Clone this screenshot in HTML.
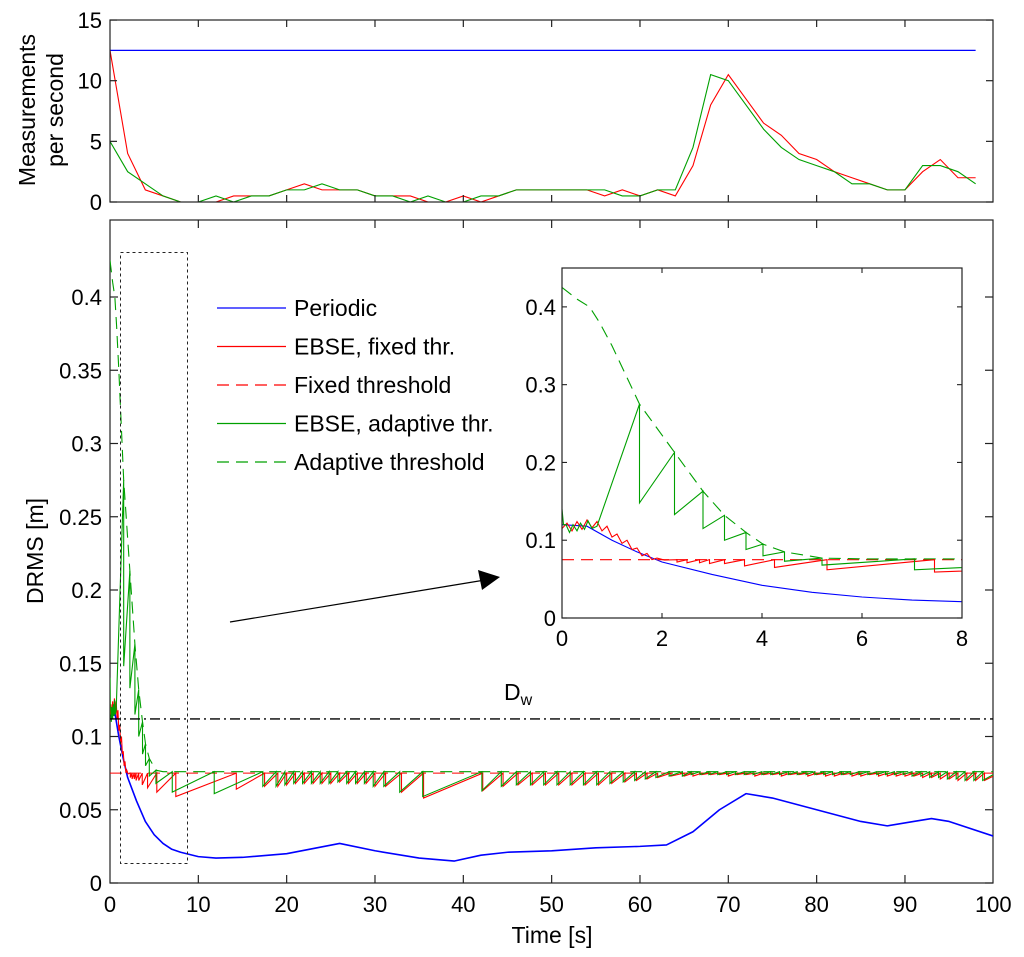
<!DOCTYPE html>
<html><head><meta charset="utf-8"><style>
html,body{margin:0;padding:0;background:#fff;}
svg{display:block;font-family:"Liberation Sans",Arial,sans-serif;}
</style></head><body>
<svg id="chart" width="1024" height="957" xmlns="http://www.w3.org/2000/svg"></svg>
<script>
// ---------- data ----------
const topTimes = [0,2,4,6,8,10,12,14,16,18,20,22,24,26,28,30,32,34,36,38,40,42,44,46,48,50,52,54,56,58,60,62,64,66,68,70,72,74,76,78,80,82,84,86,88,90,92,94,96,98];
const topPeriodic = [12.5,12.5];
const topPeriodicT = [0,98];
const topRed = [12.5,4,1,0.5,0,0,0,0.5,0.5,0.5,1,1.5,1,1,1,0.5,0.5,0.5,0,0,0.5,0,0.5,1,1,1,1,1,0.5,1,0.5,1,0.5,3,8,10.5,8.5,6.5,5.5,4,3.5,2.5,2,1.5,1,1,2.5,3.5,2,2];
const topGreen = [5,2.5,1.5,0.5,0,0,0.5,0,0.5,0.5,1,1,1.5,1,1,0.5,0.5,0,0.5,0,0,0.5,0.5,1,1,1,1,1,1,0.5,0.5,1,1,4.5,10.5,10,8,6,4.5,3.5,3,2.5,1.5,1.5,1,1,3,3,2.5,1.5];

const blueT = [0,0.5,1,1.5,2,3,4,5,6,7,8,10,12,15,20,26,30,35,39,42,45,50,55,60,63,66,69,72,75,80,85,88,91,93,95,100];
const blueV = [0.12,0.118,0.1,0.085,0.072,0.056,0.042,0.033,0.027,0.023,0.021,0.018,0.017,0.0175,0.02,0.027,0.022,0.017,0.015,0.019,0.021,0.022,0.024,0.025,0.026,0.035,0.05,0.061,0.058,0.05,0.042,0.039,0.042,0.044,0.042,0.032];

const fixedThr = 0.075;
const dwLevel = 0.112;

const thrT = [0,0.3,0.55,0.75,1.0,1.55,2.25,2.82,3.25,3.68,4.02,4.45,5.2,6,8,100];
const thrV = [0.425,0.41,0.4,0.38,0.35,0.275,0.213,0.163,0.132,0.11,0.095,0.085,0.077,0.076,0.076,0.076];

const redEarlyT = [0,0.1,0.2,0.3,0.4,0.5,0.6,0.7,0.8,0.9,1.0,1.1,1.2,1.3,1.4,1.5,1.6,1.7,1.8,1.9,2.05];
const redEarlyV = [0.115,0.122,0.112,0.124,0.114,0.126,0.116,0.124,0.112,0.118,0.104,0.108,0.096,0.1,0.088,0.09,0.08,0.083,0.075,0.077,0.0745];
const redResetT = [2.3,2.5,2.75,2.95,3.25,3.65,4.25,5.3,7.45,14.3,17.5,19,20,21,22,23,24,25,26,27,28,29,30,31.2,33,35.5,42.2,44.5,46.2,47.8,49.3,50.8,52.3,53.8,55.3,56.8,58.3,59.6,60.8,62,63.5,65,66,67,68,69,70,71,72,73,74,75,76,77,78,79,80,81,82,83,84,85,86,87,88,89,90,91,92,93,94,95,96,97,98,99];
const redResetV = [0.072,0.071,0.071,0.07,0.07,0.067,0.065,0.062,0.059,0.064,0.066,0.066,0.067,0.068,0.068,0.068,0.068,0.068,0.069,0.068,0.068,0.068,0.066,0.066,0.062,0.058,0.063,0.066,0.067,0.067,0.067,0.067,0.067,0.067,0.067,0.068,0.069,0.07,0.071,0.072,0.073,0.073,0.073,0.074,0.074,0.074,0.073,0.074,0.074,0.073,0.074,0.074,0.073,0.074,0.074,0.073,0.074,0.073,0.073,0.074,0.073,0.073,0.074,0.073,0.073,0.073,0.073,0.073,0.072,0.072,0.071,0.071,0.07,0.07,0.07,0.07];

const greenEarlyT = [0,0.03,0.08,0.15,0.22,0.3,0.37,0.45,0.52,0.6,0.7];
const greenEarlyV = [0.14,0.12,0.12,0.11,0.12,0.112,0.122,0.114,0.125,0.115,0.118];
const greenResetT = [1.55,2.25,2.82,3.25,3.68,4.02,4.45,5.2,7.05,11.8,17.3,18.8,19.8,20.8,21.8,22.8,23.8,24.8,25.8,26.8,27.8,28.8,29.8,31,32.8,35.4,42.1,44.3,46,47.6,49.1,50.6,52.1,53.6,55.1,56.6,58.1,59.4,60.6,61.8,63.3,64.8,65.8,66.8,67.8,68.8,69.8,70.8,71.8,72.8,73.8,74.8,75.8,76.8,77.8,78.8,79.8,80.8,81.8,82.8,83.8,84.8,85.8,86.8,87.8,88.8,89.8,90.8,91.8,92.8,93.8,94.8,95.8,96.8,97.8,98.8];
const greenResetV = [0.148,0.133,0.115,0.1,0.088,0.08,0.073,0.068,0.062,0.061,0.066,0.066,0.067,0.068,0.068,0.068,0.068,0.068,0.069,0.068,0.068,0.068,0.066,0.066,0.062,0.059,0.063,0.066,0.067,0.067,0.067,0.067,0.067,0.067,0.067,0.068,0.069,0.07,0.071,0.072,0.073,0.073,0.074,0.074,0.074,0.074,0.074,0.074,0.074,0.074,0.074,0.074,0.074,0.074,0.074,0.074,0.074,0.074,0.074,0.074,0.074,0.074,0.074,0.074,0.074,0.074,0.074,0.073,0.073,0.072,0.072,0.071,0.071,0.07,0.07,0.07];

const topYTicks = [0,5,10,15];
const mainXTicks = [0,10,20,30,40,50,60,70,80,90,100];
const mainYTicks = [0,0.05,0.1,0.15,0.2,0.25,0.3,0.35,0.4];
const mainYLabels = ["0","0.05","0.1","0.15","0.2","0.25","0.3","0.35","0.4"];
const insetXTicks = [0,2,4,6,8];
const insetYTicks = [0,0.1,0.2,0.3,0.4];
const insetYLabels = ["0","0.1","0.2","0.3","0.4"];
const legendLabels = ["Periodic","EBSE, fixed thr.","Fixed threshold","EBSE, adaptive thr.","Adaptive threshold"];

// ---------- helpers ----------
const NS = "http://www.w3.org/2000/svg";
const svg = document.getElementById("chart");
function el(tag, attrs, parent){
  const e = document.createElementNS(NS, tag);
  for (const k in attrs) e.setAttribute(k, attrs[k]);
  (parent||svg).appendChild(e);
  return e;
}
const BLUE="#0000ff", RED="#ff0000", GREEN="#00a000";
const FS = 22;

const topX = t => 110 + t*8.833;
const topY = v => 202 - v*12.13;
const mX = t => 110 + t*8.833;
const mY = v => 883 - v*1465;
const iX = t => 562 + t*50;
const iY = v => 618 - v*777.8;

function interp(T, V, t){
  if (t<=T[0]) return V[0];
  for (let i=1;i<T.length;i++){ if (t<=T[i]){ const f=(t-T[i-1])/(T[i]-T[i-1]); return V[i-1]+f*(V[i]-V[i-1]); } }
  return V[V.length-1];
}
function ptsStr(T,V,sx,sy){ return T.map((t,i)=>sx(t).toFixed(2)+","+sy(V[i]).toFixed(2)).join(" "); }
function sawPts(earlyT, earlyV, rT, rV, peakFn){
  const T=[...earlyT], V=[...earlyV];
  for (let i=0;i<rT.length;i++){ T.push(rT[i]); V.push(peakFn(rT[i])); T.push(rT[i]); V.push(rV[i]); }
  T.push(100); V.push(peakFn(100)-0.002);
  return [T,V];
}
const redSaw = sawPts(redEarlyT, redEarlyV, redResetT, redResetV, t=>fixedThr);
const greenSaw = sawPts(greenEarlyT, greenEarlyV, greenResetT, greenResetV, t=>interp(thrT,thrV,t));

el("defs",{}).innerHTML='<clipPath id="clipTop"><rect x="110" y="20" width="883" height="182"/></clipPath><clipPath id="clipMain"><rect x="110" y="220" width="883" height="663"/></clipPath><clipPath id="clipIn"><rect x="562" y="268" width="400" height="350"/></clipPath>';

// ---------- top panel ----------
const topG = el("g",{});


const l1 = el("polyline",{points:ptsStr(topPeriodicT,topPeriodic,topX,topY),fill:"none",stroke:BLUE,"stroke-width":1.2},topG);
 
const l2 = el("polyline",{points:ptsStr(topTimes,topRed,topX,topY),fill:"none",stroke:RED,"stroke-width":1.1,"clip-path":"url(#clipTop)"},topG);
 
const l3 = el("polyline",{points:ptsStr(topTimes,topGreen,topX,topY),fill:"none",stroke:GREEN,"stroke-width":1.1,"clip-path":"url(#clipTop)"},topG);
 
const tb = el("rect",{x:110,y:20,width:883,height:182,fill:"none",stroke:"#222","stroke-width":1.2},topG);
 
mainXTicks.forEach(t=>{ if(t===0||t===100) return;
  el("line",{x1:topX(t),x2:topX(t),y1:20,y2:27,stroke:"#222","stroke-width":1.2},topG);
  el("line",{x1:topX(t),x2:topX(t),y1:202,y2:195,stroke:"#222","stroke-width":1.2},topG);
});
topYTicks.forEach(v=>{
  el("line",{x1:110,x2:117,y1:topY(v),y2:topY(v),stroke:"#222","stroke-width":1.2},topG);
  el("line",{x1:993,x2:986,y1:topY(v),y2:topY(v),stroke:"#222","stroke-width":1.2},topG);
  const tx = el("text",{x:102,y:topY(v)+8,"text-anchor":"end","font-size":FS},topG);
  tx.textContent=v;
   
});
const yt1 = el("text",{transform:"translate(35,110) rotate(-90)","text-anchor":"middle","font-size":23},topG);
yt1.innerHTML='<tspan x="0" dy="0">Measurements</tspan><tspan x="0" dy="28">per second</tspan>';
 

// ---------- main panel ----------
const mG = el("g",{});


const mf = el("rect",{x:110,y:220,width:883,height:663,fill:"none",stroke:"#222","stroke-width":1.2},mG);
 
mainXTicks.forEach(t=>{
  if(t!==0&&t!==100){
    el("line",{x1:mX(t),x2:mX(t),y1:220,y2:228,stroke:"#222","stroke-width":1.2},mG);
    el("line",{x1:mX(t),x2:mX(t),y1:883,y2:875,stroke:"#222","stroke-width":1.2},mG);
  }
  const tx=el("text",{x:mX(t),y:912,"text-anchor":"middle","font-size":FS},mG);
  tx.textContent=t;
   
});
mainYTicks.forEach((v,i)=>{
  el("line",{x1:110,x2:118,y1:mY(v),y2:mY(v),stroke:"#222","stroke-width":1.2},mG);
  el("line",{x1:993,x2:985,y1:mY(v),y2:mY(v),stroke:"#222","stroke-width":1.2},mG);
  const tx=el("text",{x:102,y:mY(v)+8,"text-anchor":"end","font-size":FS},mG);
  tx.textContent=mainYLabels[i];
   
});
const xt = el("text",{x:552,y:943,"text-anchor":"middle","font-size":23},mG);
xt.textContent="Time [s]";
 
const yt = el("text",{transform:"translate(43,551) rotate(-90)","text-anchor":"middle","font-size":23},mG);
yt.textContent="DRMS [m]";
 

const cg = el("g",{"clip-path":"url(#clipMain)"},mG);
const mb = el("polyline",{points:ptsStr(blueT,blueV,mX,mY),fill:"none",stroke:BLUE,"stroke-width":1.6,"stroke-linejoin":"round"},cg);
 
const mrd = el("line",{x1:mX(0),x2:mX(100),y1:mY(fixedThr),y2:mY(fixedThr),stroke:RED,"stroke-width":1.1,"stroke-dasharray":"12 7"},cg);
 
const mgd = el("polyline",{points:ptsStr(thrT,thrV,mX,mY),fill:"none",stroke:GREEN,"stroke-width":1.1,"stroke-dasharray":"12 7"},cg);
 
const mr = el("polyline",{points:ptsStr(redSaw[0],redSaw[1],mX,mY),fill:"none",stroke:RED,"stroke-width":1.1},cg);
 
const mgr = el("polyline",{points:ptsStr(greenSaw[0],greenSaw[1],mX,mY),fill:"none",stroke:GREEN,"stroke-width":1.1},cg);
 
const dw = el("line",{x1:mX(0),x2:mX(100),y1:mY(dwLevel),y2:mY(dwLevel),stroke:"#000","stroke-width":1.3,"stroke-dasharray":"10 4 2 4"},cg);
 
const dwl = el("text",{x:504,y:700,"font-size":23},mG);
dwl.innerHTML='D<tspan font-size="16" dy="5">w</tspan>';
 
const zr = el("rect",{x:120.5,y:252.5,width:67,height:611,fill:"none",stroke:"#222","stroke-width":1,"stroke-dasharray":"3 3"},mG);
 
const ar = el("line",{x1:230,y1:622,x2:485,y2:580,stroke:"#000","stroke-width":1.2},mG);
 
const ah = el("polygon",{points:"500,577 478,570 482,590",fill:"#000"},mG);
 

// legend
const lg = el("g",{});


const lgStyles=[[BLUE,""],[RED,""],[RED,"12 7"],[GREEN,""],[GREEN,"12 7"]];
legendLabels.forEach((lab,i)=>{
  const y=308+i*38.5;
  const e=el("g",{},lg);
   
  const ln=el("line",{x1:217,x2:286,y1:y,y2:y,stroke:lgStyles[i][0],"stroke-width":1.2},e);
  if(lgStyles[i][1]) ln.setAttribute("stroke-dasharray",lgStyles[i][1]);
  const tx=el("text",{x:294,y:y+8,"font-size":23},e);
  tx.textContent=lab;
});

// ---------- inset ----------
const ig = el("g",{});


el("rect",{x:562,y:268,width:400,height:350,fill:"#fff",stroke:"none"},ig);
const icg = el("g",{"clip-path":"url(#clipIn)"},ig);
const ib = el("polyline",{points:ptsStr(blueT,blueV,iX,iY),fill:"none",stroke:BLUE,"stroke-width":1.1},icg);
 
const ird = el("line",{x1:iX(0),x2:iX(8),y1:iY(fixedThr),y2:iY(fixedThr),stroke:RED,"stroke-width":1.1,"stroke-dasharray":"12 7"},icg);
 
const igd = el("polyline",{points:ptsStr(thrT,thrV,iX,iY),fill:"none",stroke:GREEN,"stroke-width":1.1,"stroke-dasharray":"12 7"},icg);
 
const ir = el("polyline",{points:ptsStr(redSaw[0],redSaw[1],iX,iY),fill:"none",stroke:RED,"stroke-width":1.1},icg);
 
const igr = el("polyline",{points:ptsStr(greenSaw[0],greenSaw[1],iX,iY),fill:"none",stroke:GREEN,"stroke-width":1.1},icg);
 
const ifr = el("rect",{x:562,y:268,width:400,height:350,fill:"none",stroke:"#222","stroke-width":1.2},ig);
 
insetXTicks.forEach(t=>{
  if(t!==0&&t!==8){
    el("line",{x1:iX(t),x2:iX(t),y1:268,y2:273,stroke:"#222","stroke-width":1.1},ig);
    el("line",{x1:iX(t),x2:iX(t),y1:618,y2:613,stroke:"#222","stroke-width":1.1},ig);
  }
  const tx=el("text",{x:iX(t),y:646,"text-anchor":"middle","font-size":FS},ig);
  tx.textContent=t;
   
});
insetYTicks.forEach((v,i)=>{
  el("line",{x1:562,x2:567,y1:iY(v),y2:iY(v),stroke:"#222","stroke-width":1.1},ig);
  el("line",{x1:962,x2:957,y1:iY(v),y2:iY(v),stroke:"#222","stroke-width":1.1},ig);
  const tx=el("text",{x:556,y:iY(v)+8,"text-anchor":"end","font-size":FS},ig);
  tx.textContent=insetYLabels[i];
   
});
</script>
</body></html>
